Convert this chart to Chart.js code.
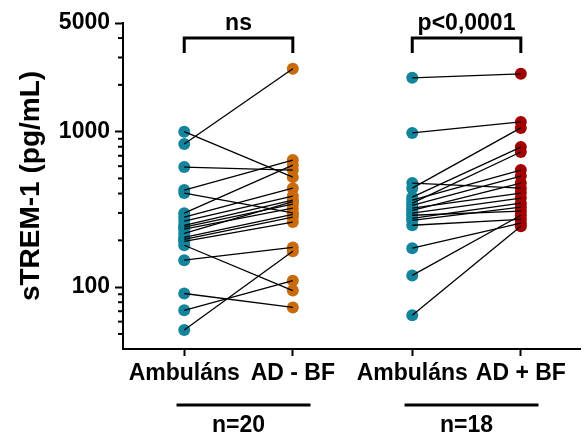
<!DOCTYPE html>
<html>
<head>
<meta charset="utf-8">
<script src="https://cdn.jsdelivr.net/npm/chart.js@4.4.0/dist/chart.umd.min.js"></script>
<style>
  html, body { margin: 0; padding: 0; background: #fff; }
  #wrap { width: 586px; height: 436px; }
</style>
</head>
<body>
<div id="wrap"><canvas id="chart" width="586" height="436"></canvas></div>
<script>
// kategóriák és a helyük az x tengelyen
const categories = ['Ambuláns', 'AD - BF', 'Ambuláns', 'AD + BF'];
const catPos = [1, 2, 3.1, 4.1];
const yTicks = [100, 1000, 5000];
const minorTicks = [50, 60, 70, 80, 90, 200, 300, 400, 500, 600, 700, 800, 900, 2000, 3000, 4000];

// 1. csoport (n=20), párosított mérések
const g1Amb = [1000, 833, 592, 421, 403, 299, 282, 266, 250, 243, 236, 222, 209, 203, 197, 186, 149, 91, 71, 53];
const g1AD  = [510, 2540, 566, 657, 300, 610, 433, 385, 363, 342, 322, 355, 294, 282, 262, 95, 180, 74, 110, 170];

// 2. csoport (n=18)
const g2Amb = [2220, 982, 467, 433, 379, 363, 347, 336, 322, 312, 299, 290, 277, 269, 250, 178, 119, 66];
const g2AD  = [2355, 1156, 433, 1057, 796, 566, 740, 518, 403, 467, 374, 308, 347, 327, 273, 258, 290, 246];

const groupLabels = ['n=20', 'n=18'];
const pLabels = ['ns', 'p<0,0001'];

const TEAL = '#13849c';
const ORANGE = '#c96a0c';
const RED = '#a30000';
const FONT = 'Arial, "Liberation Sans", sans-serif';

function pointSet(values, xi, color) {
    return {
        data: values.map(v => ({ x: catPos[xi], y: v })),
        showLine: false,
        pointRadius: 6,
        pointBackgroundColor: color,
        pointBorderWidth: 0,
        order: 1
    };
}

function pairLines(before, after, xa, xb) {
    return before.map((v, i) => ({
        data: [{ x: catPos[xa], y: v }, { x: catPos[xb], y: after[i] }],
        showLine: true,
        borderColor: '#000',
        borderWidth: 1.3,
        pointRadius: 0,
        order: 0
    }));
}

const datasets = [
    pointSet(g1Amb, 0, TEAL),
    pointSet(g1AD, 1, ORANGE),
    pointSet(g2Amb, 2, TEAL),
    pointSet(g2AD, 3, RED),
    ...pairLines(g1Amb, g1AD, 0, 1),
    ...pairLines(g2Amb, g2AD, 2, 3)
];

// kis osztásjelek, zárójelek és csoportfeliratok
const extras = {
    id: 'extras',
    afterDraw(chart) {
        const { ctx, scales: { x, y }, chartArea } = chart;
        ctx.save();
        ctx.strokeStyle = '#000';
        ctx.fillStyle = '#000';
        ctx.lineWidth = 2;
        minorTicks.forEach(v => {
            const py = y.getPixelForValue(v);
            ctx.beginPath();
            ctx.moveTo(chartArea.left - 5, py);
            ctx.lineTo(chartArea.left, py);
            ctx.stroke();
        });

        ctx.font = 'bold 23px ' + FONT;
        ctx.textAlign = 'center';
        ctx.textBaseline = 'alphabetic';
        [[0, 1], [2, 3]].forEach(([a, b], i) => {
            const x1 = x.getPixelForValue(catPos[a]);
            const x2 = x.getPixelForValue(catPos[b]);
            const mid = (x1 + x2) / 2;
            ctx.lineWidth = 3;
            ctx.beginPath();
            ctx.moveTo(x1, 53);
            ctx.lineTo(x1, 38);
            ctx.lineTo(x2, 38);
            ctx.lineTo(x2, 53);
            ctx.stroke();
            ctx.fillText(pLabels[i], mid, 30);

            ctx.beginPath();
            ctx.moveTo(mid - 62, 405);
            ctx.lineTo(mid + 72, 405);
            ctx.stroke();
            ctx.fillText(groupLabels[i], mid, 432);
        });
        ctx.restore();
    }
};

new Chart(document.getElementById('chart'), {
    type: 'scatter',
    data: { datasets },
    options: {
        responsive: false,
        animation: false,
        layout: { padding: { top: 23, right: 0, left: 0, bottom: 0 } },
        plugins: { legend: { display: false }, tooltip: { enabled: false } },
        scales: {
            x: {
                type: 'linear',
                min: 0.436,
                max: 4.645,
                afterBuildTicks: scale => { scale.ticks = catPos.map(v => ({ value: v })); },
                afterFit: scale => { scale.height = 87; },
                border: { color: '#000', width: 2 },
                grid: { drawOnChartArea: false, drawTicks: true, tickLength: 7, tickWidth: 2, tickColor: '#000' },
                ticks: {
                    autoSkip: false,
                    maxRotation: 0,
                    padding: 4,
                    color: '#000',
                    font: { family: FONT, size: 23, weight: 'bold' },
                    callback: (value, index) => categories[index]
                }
            },
            y: {
                type: 'logarithmic',
                min: 40,
                max: 5000,
                afterBuildTicks: scale => { scale.ticks = yTicks.map(v => ({ value: v })); },
                afterFit: scale => { scale.width = 123; },
                border: { color: '#000', width: 2 },
                grid: { drawOnChartArea: false, drawTicks: true, tickLength: 8, tickWidth: 2, tickColor: '#000' },
                ticks: {
                    padding: 5,
                    color: '#000',
                    font: { family: FONT, size: 23, weight: 'bold' },
                    callback: value => String(value)
                },
                title: {
                    display: true,
                    text: 'sTREM-1 (pg/mL)',
                    color: '#000',
                    font: { family: FONT, size: 28, weight: 'bold' },
                    padding: { top: 14, bottom: 0 }
                }
            }
        }
    },
    plugins: [extras]
});
</script>
</body>
</html>
